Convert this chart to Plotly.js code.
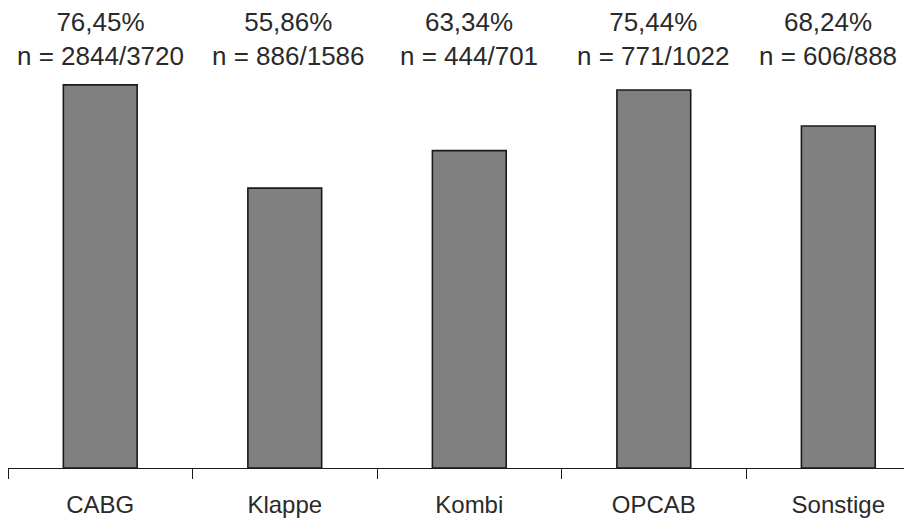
<!DOCTYPE html>
<html>
<head>
<meta charset="utf-8">
<script src="https://cdn.plot.ly/plotly-3.0.1.min.js"></script>
<style>html,body{margin:0;padding:0;background:#fff;}#chart{width:904px;height:522px;}</style>
</head>
<body>
<div id="chart"></div>
<script>
const categories = ["CABG", "Klappe", "Kombi", "OPCAB", "Sonstige"];
const percentValues = [76.45, 55.86, 63.34, 75.44, 68.24];
const countSuccess = [2844, 886, 444, 771, 606];
const countTotal = [3720, 1586, 701, 1022, 888];

const fmt = v => v.toFixed(2).replace('.', ',') + '%';
const labelShift = [0, 4, 0, 0, -10];

const trace = {
  type: 'bar',
  x: categories,
  y: percentValues,
  marker: {color: '#808080', line: {color: '#1a1a1a', width: 1.6}},
  hoverinfo: 'skip'
};

const annotations = categories.map((c, i) => ({
  x: c, xref: 'x',
  y: 0.952, yref: 'paper',
  xshift: labelShift[i],
  text: fmt(percentValues[i]) + '<br>n = ' + countSuccess[i] + '/' + countTotal[i],
  showarrow: false,
  xanchor: 'center', yanchor: 'middle',
  font: {family: 'Liberation Sans, Arial, sans-serif', size: 26, color: '#2a2a2a'}
}));

const layout = {
  width: 904, height: 522,
  margin: {l: 8, r: 0, t: 17, b: 54, pad: 0},
  paper_bgcolor: '#ffffff', plot_bgcolor: '#ffffff',
  bargap: 0.6,
  showlegend: false,
  font: {family: 'Liberation Sans, Arial, sans-serif', size: 24, color: '#2a2a2a'},
  xaxis: {
    type: 'category',
    range: [-0.5, 4.356],
    showline: true, linecolor: '#1a1a1a', linewidth: 1,
    ticks: 'outside', tickson: 'boundaries', ticklen: 10, tickcolor: '#1a1a1a', tickwidth: 1,
    ticklabelstandoff: 15,
    showgrid: false, zeroline: false,
    tickfont: {family: 'Liberation Sans, Arial, sans-serif', size: 24, color: '#2a2a2a'}
  },
  yaxis: {range: [0, 90], visible: false, showgrid: false, zeroline: false},
  annotations: annotations
};

Plotly.newPlot('chart', [trace], layout, {displayModeBar: false, staticPlot: true});
</script>
</body>
</html>
